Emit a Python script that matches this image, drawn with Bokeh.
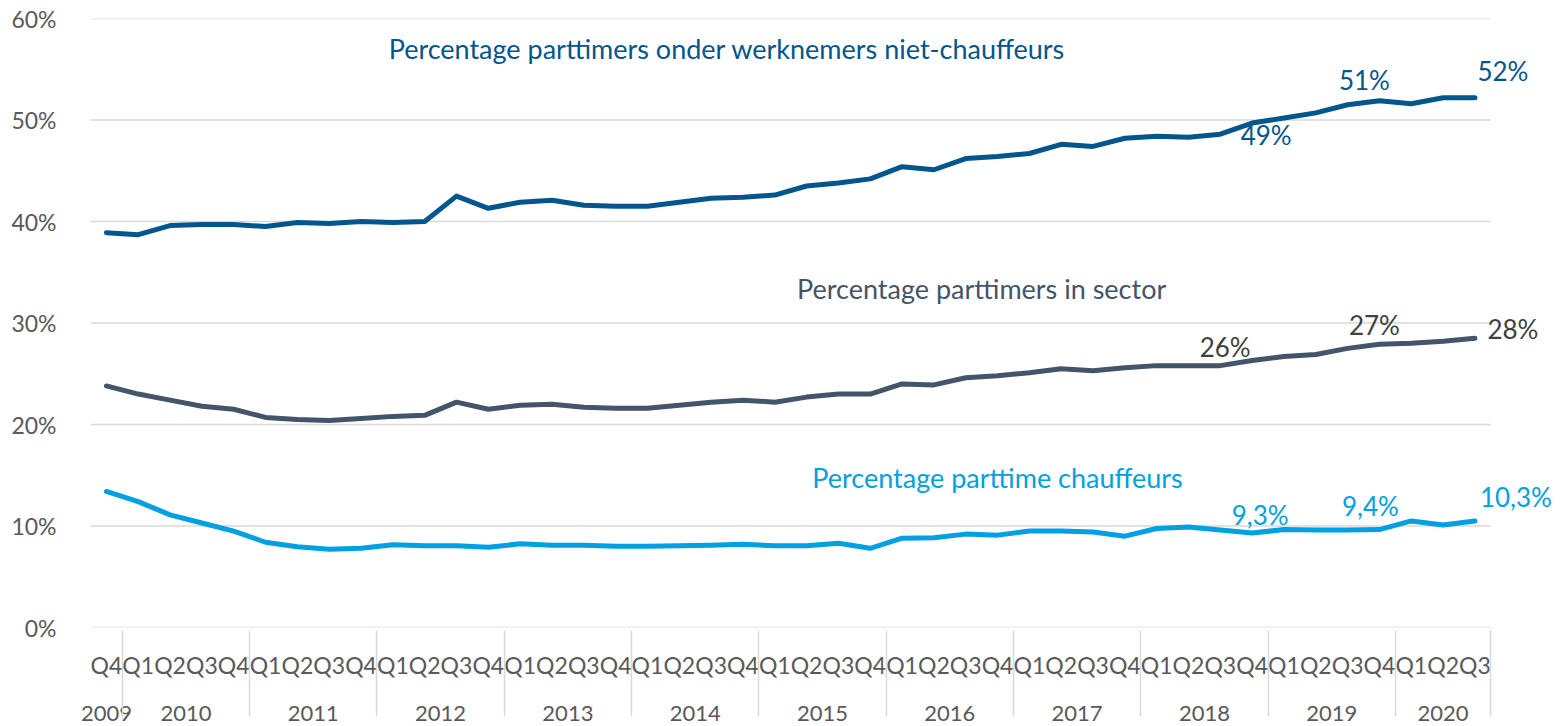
from bokeh.plotting import figure
from bokeh.models import (FactorRange, PrintfTickFormatter, Label, FixedTicker)
from bokeh.embed import file_html
from bokeh.resources import INLINE

# ---------------- data ----------------
quarters = ["Q1", "Q2", "Q3", "Q4"]
factors = ([("2009", "Q4")]
           + [(str(y), q) for y in range(2010, 2020) for q in quarters]
           + [("2020", q) for q in ["Q1", "Q2", "Q3"]])
# two blank slots right of the axis end, used as room for the end labels
pad_factors = [(" ", " "), (" ", "  ")]

niet_chauffeurs = [38.9, 38.7, 39.6, 39.7, 39.7, 39.5, 39.9, 39.8, 40.0, 39.9, 40.0,
                   42.5, 41.3, 41.9, 42.1, 41.6, 41.5, 41.5, 41.9, 42.3, 42.4, 42.6,
                   43.5, 43.8, 44.2, 45.4, 45.1, 46.2, 46.4, 46.7, 47.6, 47.4, 48.2,
                   48.4, 48.3, 48.6, 49.7, 50.2, 50.7, 51.5, 51.9, 51.6, 52.2, 52.2]
sector = [23.8, 23.0, 22.4, 21.8, 21.5, 20.7, 20.5, 20.4, 20.6, 20.8, 20.9,
          22.2, 21.5, 21.9, 22.0, 21.7, 21.6, 21.6, 21.9, 22.2, 22.4, 22.2,
          22.7, 23.0, 23.0, 24.0, 23.9, 24.6, 24.8, 25.1, 25.5, 25.3, 25.6,
          25.8, 25.8, 25.8, 26.3, 26.7, 26.9, 27.5, 27.9, 28.0, 28.2, 28.5]
chauffeurs = [13.4, 12.4, 11.1, 10.3, 9.5, 8.4, 7.95, 7.7, 7.8, 8.15, 8.05,
              8.05, 7.9, 8.25, 8.1, 8.1, 8.0, 8.0, 8.05, 8.1, 8.2, 8.05,
              8.05, 8.3, 7.8, 8.8, 8.85, 9.2, 9.1, 9.5, 9.5, 9.4, 9.0,
              9.75, 9.9, 9.6, 9.3, 9.65, 9.6, 9.6, 9.65, 10.5, 10.1, 10.5]

y_ticks = [0, 10, 20, 30, 40, 50, 60]

label_idx = [36, 40, 43]
labels_niet = ["49%", "51%", "52%"]
labels_sector = ["26%", "27%", "28%"]
labels_chauf = ["9,3%", "9,4%", "10,3%"]

series_names = ["Percentage parttimers onder werknemers niet-chauffeurs",
                "Percentage parttimers in sector",
                "Percentage parttime chauffeurs"]

C_DARK = "#02568C"
C_MID = "#44546A"
C_LIGHT = "#00A0E2"
C_TXT = "#595959"
C_GRID = "#D9D9D9"
FONT = "Lato"

# ---------------- figure ----------------
x_range = FactorRange(*(factors + pad_factors), factor_padding=0, group_padding=0,
                      subgroup_padding=0, range_padding=0)
p = figure(x_range=x_range, y_range=(0, 60), frame_width=1464, frame_height=609,
           output_backend="svg", toolbar_location=None,
           min_border_left=90, min_border_right=0, min_border_top=18,
           min_border_bottom=88)
p.outline_line_color = None
p.background_fill_color = "white"

p.yaxis.ticker = FixedTicker(ticks=y_ticks)
p.yaxis.formatter = PrintfTickFormatter(format="%d%%")
p.yaxis.axis_line_color = None
p.yaxis.major_tick_line_color = None
p.yaxis.minor_tick_line_color = None
p.yaxis.major_label_text_font = FONT
p.yaxis.major_label_text_font_size = "23px"
p.yaxis.major_label_text_color = C_TXT
p.yaxis.major_label_standoff = 28

p.ygrid.grid_line_color = None
p.xgrid.grid_line_color = None
# horizontal gridlines only across the real categories
n = len(factors)
p.segment(x0=[0] * len(y_ticks), x1=[n] * len(y_ticks), y0=y_ticks, y1=y_ticks,
          line_color=C_GRID, line_width=1.5)

xa = p.xaxis[0]
xa.axis_line_color = None
xa.major_tick_line_color = None
xa.minor_tick_line_color = None
xa.major_label_text_font = FONT
xa.major_label_text_font_size = "23px"
xa.major_label_text_color = C_TXT
xa.major_label_standoff = 17
xa.group_text_font = FONT
xa.group_text_font_size = "22px"
xa.group_text_font_style = "normal"
xa.group_text_color = C_TXT
xa.separator_line_color = C_GRID
xa.separator_line_width = 1.5

for ys, col in [(niet_chauffeurs, C_DARK), (sector, C_MID), (chauffeurs, C_LIGHT)]:
    p.line(x=factors, y=ys, line_width=5, line_color=col,
           line_join="round", line_cap="round")

def add_labels(ys, texts, dx, dy, col):
    # synthetic categorical coordinate: centre of factor i is i + 0.5
    for i, t, ox, oy in zip(label_idx, texts, dx, dy):
        p.add_layout(Label(x=i + 0.5, y=ys[i], text=t, x_offset=ox, y_offset=oy,
                           text_align="center", text_baseline="middle",
                           text_font=FONT, text_font_size="26px", text_color=col))

add_labels(niet_chauffeurs, labels_niet, [14, -15, 28], [-12, 21, 27], C_DARK)
add_labels(sector, labels_sector, [-27, -5, 38], [14, 19, 9], "#404040")
add_labels(chauffeurs, labels_chauf, [8, -9, 41], [18, 24, 24], C_LIGHT)

for name, x, y, col in [(series_names[0], 20.0, 57.0, C_DARK),
                        (series_names[1], 28.0, 33.4, C_MID),
                        (series_names[2], 28.5, 14.8, C_LIGHT)]:
    p.add_layout(Label(x=x, y=y, text=name, text_align="center",
                       text_baseline="middle", text_font=FONT,
                       text_font_size="27px", text_color=col))

open("out.html", "w").write(file_html(p, INLINE))
